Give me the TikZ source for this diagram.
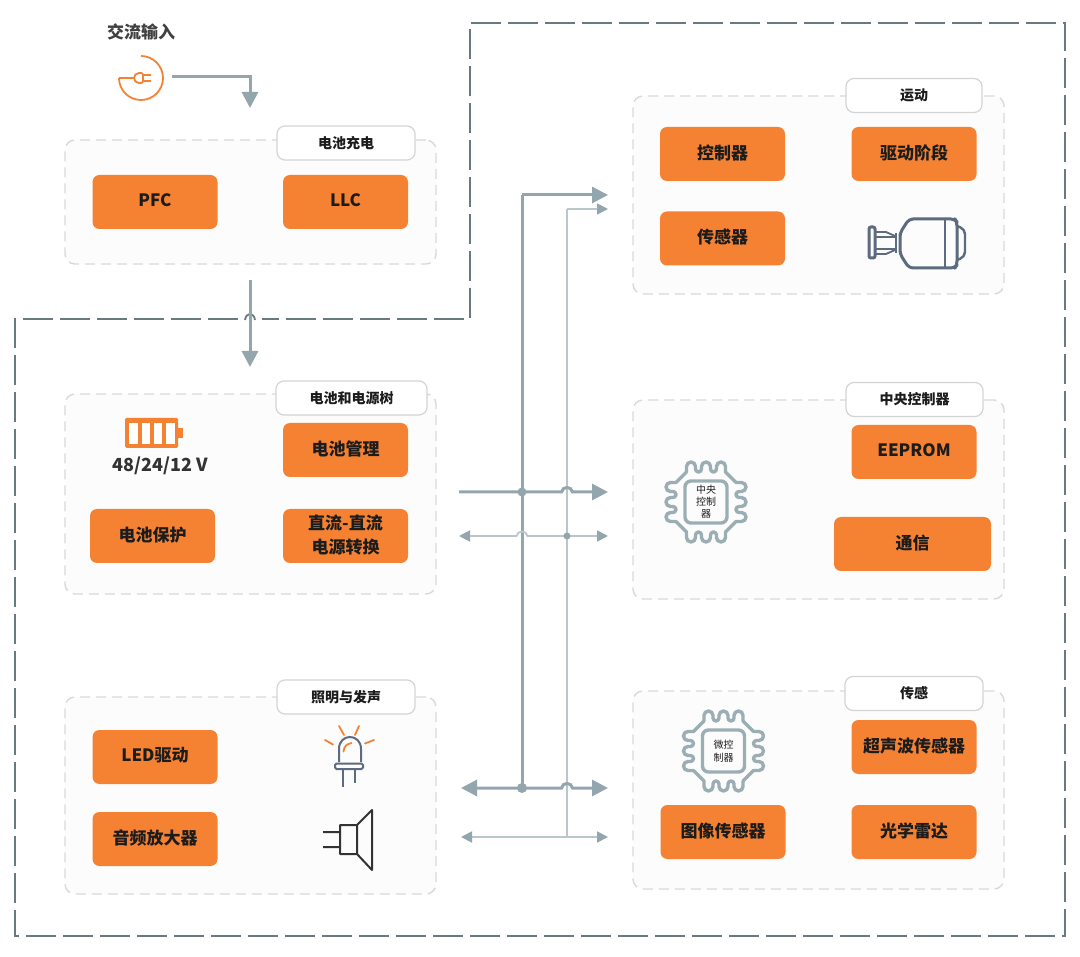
\documentclass[tikz,border=0pt]{standalone}
\usepackage{fontspec}
\setmainfont{Noto Sans CJK SC}
\usetikzlibrary{arrows.meta,calc}
\definecolor{blockorange}{HTML}{F58233}
\definecolor{busgray}{HTML}{93A6AD}
\definecolor{buslight}{HTML}{B9C7CB}
\definecolor{framegray}{HTML}{667A80}
\definecolor{chipgray}{HTML}{9BAEB4}
\definecolor{motorgray}{HTML}{5C6B7E}
\definecolor{darktext}{HTML}{1C1C1C}
\definecolor{paneltint}{HTML}{FCFCFC}
\newcommand{\boxfont}{\fontsize{17}{24}\selectfont\bfseries}
\newcommand{\tabfont}{\fontsize{14}{16}\selectfont\bfseries}

\tikzset{
  panel/.style={draw=black!15,fill=paneltint,line width=1.4pt,rounded corners=10pt,
    dash pattern=on 10pt off 6pt,minimum width=371pt},
  tabbox/.style={draw=black!17,fill=white,line width=1.2pt,rounded corners=8pt,
    minimum height=34pt,text=darktext,font=\tabfont},
  blockbox/.style={fill=blockorange,rounded corners=7pt,minimum width=125pt,
    minimum height=54pt,inner sep=0pt,align=center,text=darktext,text depth=4.5pt,font=\boxfont},
  label/.style={inner sep=0pt,align=center,text=darktext},
  busthick/.style={draw=busgray,line width=3pt,-{Triangle[length=16pt,width=16pt]}},
  busthin/.style={draw=buslight,line width=1.8pt,-{Triangle[length=11pt,width=11pt,color=busgray]}},
  junction/.style={circle,fill=busgray,inner sep=0pt,minimum size=#1},
  chipline/.style={draw=chipgray,line width=3.4pt,line cap=round,line join=round},
  pics/chip/.style={code={
    \foreach \r in {0,90,180,270} {
      \draw[chipline,rotate=\r] (-19.5,30) -- (-19.5,35.5) arc[start angle=180,end angle=0,radius=4.5]
        -- (-10.5,33) arc[start angle=180,end angle=360,radius=3]
        -- (-4.5,35.5) arc[start angle=180,end angle=0,radius=4.5]
        -- (4.5,33) arc[start angle=180,end angle=360,radius=3]
        -- (10.5,35.5) arc[start angle=180,end angle=0,radius=4.5]
        -- (19.5,30) -- (30,19.5);
    }
    \draw[chipline,rounded corners=6pt] (-21,-21) rectangle (21,21);
  }}
}

\begin{document}
\begin{tikzpicture}[x=1pt,y=1pt]
\useasboundingbox (0,0) rectangle (1080,-957);
\fill[white] (0,0) rectangle (1080,-957);

% outer frame
\coordinate (frameA) at (238,-319);
\coordinate (frameB) at (262,-319);
\draw[framegray,line width=1.8pt,dash pattern=on 30pt off 7pt]
  (frameA) -- (15,-319) -- (15,-936) -- (1065,-936) -- (1065,-23) -- (470,-23) -- (470,-319) -- (frameB);
\draw[framegray,line width=1.8pt] (245,-320) .. controls (246,-312) and (254,-312) .. (255,-320);

% panels
\node[panel,minimum height=124pt] (charge) at (250.5,-202) {};
\node[panel,minimum height=200pt] (battery) at (250.5,-494) {};
\node[panel,minimum height=197pt] (light) at (250.5,-795.5) {};
\node[panel,minimum height=198pt] (motion) at (818.5,-195) {};
\node[panel,minimum height=199pt] (central) at (818.5,-499.5) {};
\node[panel,minimum height=198pt] (sense) at (818.5,-790) {};

% panel titles
\node[tabbox,minimum width=138pt] (chargetab) at (346,-143) {电池充电};
\node[tabbox,minimum width=151pt] (batterytab) at (351.5,-398) {电池和电源树};
\node[tabbox,minimum width=138pt] (lighttab) at (346,-697) {照明与发声};
\node[tabbox,minimum width=136pt] (motiontab) at (914,-95.5) {运动};
\node[tabbox,minimum width=137pt] (centraltab) at (914.5,-399.5) {中央控制器};
\node[tabbox,minimum width=138pt] (sensetab) at (914,-693.5) {传感};

% blocks
\node[blockbox] (pfc) at (155,-202) {PFC};
\node[blockbox] (llc) at (345.5,-202) {LLC};
\node[blockbox] (batman) at (345.5,-450) {电池管理};
\node[blockbox] (batprot) at (152.5,-536) {电池保护};
\node[blockbox] (dcdc) at (345.5,-536) {直流-直流\\电源转换};
\node[blockbox] (led) at (155,-757) {LED驱动};
\node[blockbox] (audio) at (155,-839) {音频放大器};
\node[blockbox] (ctrl) at (722.5,-154) {控制器};
\node[blockbox] (drive) at (914,-154) {驱动阶段};
\node[blockbox] (sensor) at (722.5,-238.5) {传感器};
\node[blockbox] (eeprom) at (914,-452) {EEPROM};
\node[blockbox,minimum width=157pt] (comm) at (912.5,-544) {通信};
\node[blockbox] (ultra) at (914,-747) {超声波传感器};
\node[blockbox] (image) at (723,-832) {图像传感器};
\node[blockbox] (lidar) at (914,-832) {光学雷达};

\node[label,font=\fontsize{17}{18}\selectfont\bfseries,text=black!75] (acin) at (141,-31.5) {交流输入};
\node[label,font=\fontsize{18}{18}\selectfont\bfseries,text=black!80] (volt) at (160,-466) {48/24/12 V};

% chips
\pic at (706,-502) {chip};
\node[label,font=\fontsize{10}{12}\selectfont] (cpu) at (706,-502) {中央\\控制\\器};
\pic at (723.5,-751) {chip};
\node[label,font=\fontsize{10}{13}\selectfont] (mcu) at (723.5,-751) {微控\\制器};

% plug
\draw[blockorange,line width=1.8pt] (119,-78) arc[start angle=180,delta angle=270,radius=22];
\draw[blockorange,line width=1.8pt,rounded corners=2pt] (119,-78) -- (134,-78)
  (143,-73) -- (137,-73) -- (134,-76) -- (134,-80) -- (137,-83) -- (143,-83) -- cycle
  (143,-75) -- (151,-75) (143,-81) -- (151,-81);

% battery
\fill[blockorange,rounded corners=1.5pt] (125,-418) rectangle (178,-448);
\fill[blockorange] (178,-428) rectangle (183,-438);
\foreach \x in {129,141.5,153.5,166}
  \fill[white] (\x,-423) rectangle ++(8.5,-21);

% led
\draw[motorgray,line width=2pt,line join=round] (339,-762) -- (339,-749)
  .. controls (339,-733) and (361,-733) .. (361,-749) -- (361,-762);
\draw[motorgray,line width=2pt,rounded corners=1.5pt] (335,-763.5) rectangle (363,-769);
\draw[motorgray,line width=2pt] (343,-769) -- (343,-787) (355,-769) -- (355,-783);
\draw[blockorange,line width=1.8pt,line cap=round] (325,-740) -- (333,-744.5)
  (339,-726) -- (344,-735) (359,-726) -- (355,-735) (365,-743.5) -- (374,-740)
  (343.5,-751.5) .. controls (344,-746) and (347,-744) .. (351.5,-743);

% speaker
\draw[black!80,line width=2pt,line join=round] (323,-832) -- (340,-832) (323,-847) -- (340,-847)
  (340,-825) rectangle (357,-854)
  (357,-825) -- (372,-810) -- (372,-870) -- (357,-854);

% motor
\draw[motorgray,line width=3pt,line join=round,rounded corners=4pt]
  (900,-238) -- (900,-233) -- (909,-219) -- (955,-219) -- (957,-222) -- (957,-265) -- (955,-268) -- (909,-268) -- (900,-254) -- (900,-248) -- cycle;
\draw[motorgray,line width=2.8pt] (945,-219) -- (945,-268);
\draw[motorgray,line width=2.4pt,rounded corners=2pt] (957,-226) -- (962,-228) -- (965,-232) -- (965,-254) -- (962,-258) -- (957,-260);
\draw[motorgray,line width=3pt,rounded corners=2pt] (869,-227) rectangle (875,-258);
\draw[motorgray,line width=2.6pt] (875,-237) -- (895,-237) (875,-249) -- (895,-249) (896,-233) -- (896,-253);
\draw[motorgray,line width=1.8pt] (875,-232) -- (886,-232) -- (895,-236) (875,-254) -- (886,-254) -- (895,-250);

% bus lines
\coordinate (acout) at (172,-77);
\coordinate (chargein) at (250,-108);
\coordinate (chargeout) at (250,-280);
\coordinate (batteryin) at (250,-367);
\coordinate (busA) at (522,-195);
\coordinate (busB) at (567,-209);
\coordinate (motionA) at (608,-195);
\coordinate (motionB) at (608,-209);
\coordinate (powerL) at (459,-492);
\coordinate (powerR) at (608,-492);
\coordinate (dataL) at (459,-536);
\coordinate (dataR) at (608,-536);
\coordinate (sideL) at (461,-788);
\coordinate (sideR) at (608,-788);
\coordinate (lowL) at (461,-837);
\coordinate (lowR) at (608,-837);

\draw[busthick] (acout) -| (chargein);
\draw[busthick] (chargeout) -- (batteryin);

\draw[busthin,-] (busB) -- (busB |- lowL);
\draw[busthin] (busB) -- (motionB);
\draw[busthick,-] (busA) -- (busA |- sideL);
\draw[busthick] (busA) -- (motionA);

\draw[busthick] (powerL) -- ($(powerL -| busB)+(-5.5,0)$) .. controls +(1,6) and +(-1,6) .. ++(11,0) -- (powerR);
\draw[busthin,{Triangle[length=11pt,width=11pt,color=busgray]}-{Triangle[length=11pt,width=11pt,color=busgray]}]
  (dataL) -- ($(dataL -| busA)+(-5.5,0)$) .. controls +(1,6) and +(-1,6) .. ++(11,0) -- (dataR);
\draw[busthick,{Triangle[length=16pt,width=16pt]}-{Triangle[length=16pt,width=16pt]}]
  (sideL) -- ($(sideL -| busB)+(-5.5,0)$) .. controls +(1,6) and +(-1,6) .. ++(11,0) -- (sideR);
\draw[busthin,{Triangle[length=11pt,width=11pt,color=busgray]}-{Triangle[length=11pt,width=11pt,color=busgray]}]
  (lowL) -- (lowR);

\node[junction=9pt] (hubA) at (powerL -| busA) {};
\node[junction=7pt] (hubB) at (dataL -| busB) {};
\node[junction=10pt] (hubC) at (sideL -| busA) {};
\end{tikzpicture}
\end{document}
